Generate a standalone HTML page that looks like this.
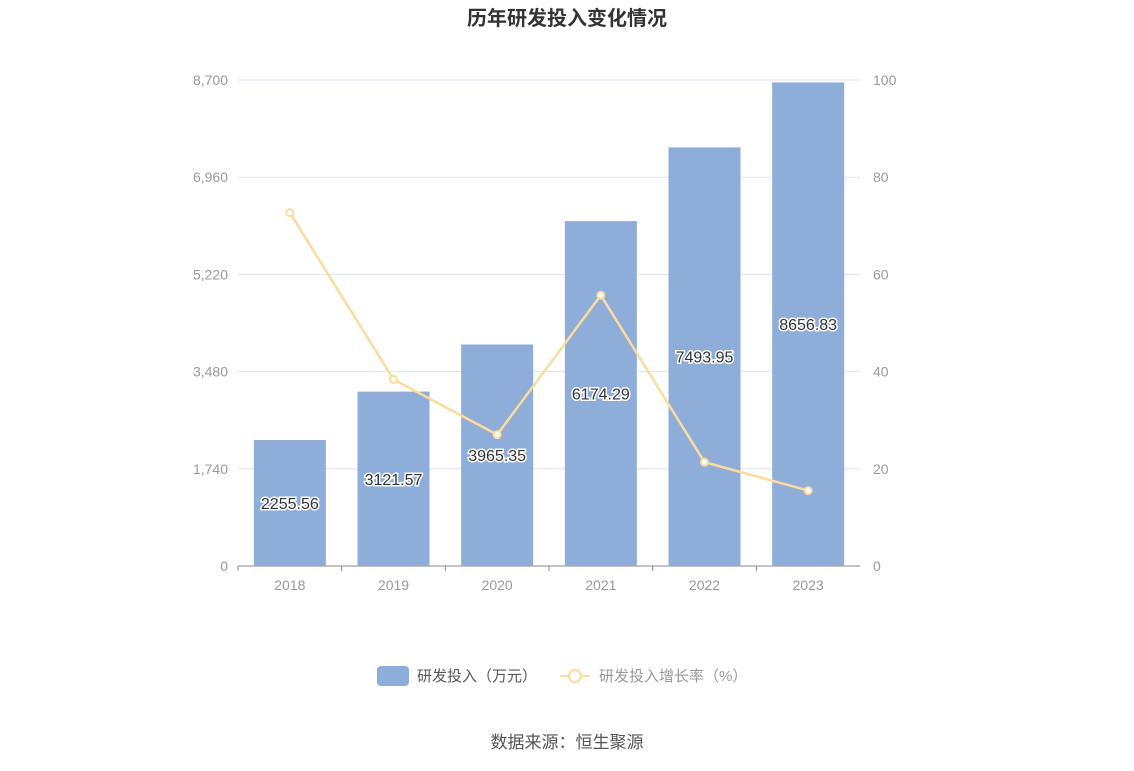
<!DOCTYPE html>
<html><head><meta charset="utf-8"><style>
body{margin:0;background:#fff;font-family:"Liberation Sans","Noto Sans CJK SC",sans-serif;}
</style></head><body>
<svg width="1134" height="766" viewBox="0 0 1134 766">
<text x="567" y="25" text-anchor="middle" font-size="20" font-weight="bold" fill="#333" font-family="Liberation Sans, Noto Sans CJK SC, sans-serif">历年研发投入变化情况</text>
<g id="grid"></g><g id="bars"></g><g id="line"></g><g id="labels"></g>
<g>
<rect x="377" y="666" width="32" height="20" rx="4" fill="#8eadd9"/>
<text x="417" y="681" font-size="15" fill="#555" font-family="Liberation Sans, Noto Sans CJK SC, sans-serif">研发投入（万元）</text>
<line x1="560" y1="676" x2="590" y2="676" stroke="#fddb9d" stroke-width="2"/>
<circle cx="575" cy="676" r="6" fill="#fff" stroke="#fddb9d" stroke-width="2"/>
<text x="599" y="681" font-size="15" fill="#999" font-family="Liberation Sans, Noto Sans CJK SC, sans-serif">研发投入增长率（%）</text>
</g>
<text x="567" y="748" text-anchor="middle" font-size="17" fill="#555" font-family="Liberation Sans, Noto Sans CJK SC, sans-serif">数据来源：恒生聚源</text>
</svg>
<script>
const categories=["2018","2019","2020","2021","2022","2023"];
const investment=[2255.56,3121.57,3965.35,6174.29,7493.95,8656.83];
const growth=[72.7,38.39,27.03,55.71,21.37,15.52];
const leftTicks=[0,1740,3480,5220,6960,8700];
const rightTicks=[0,20,40,60,80,100];
const NS="http://www.w3.org/2000/svg";
const L=238,R=860,T=80,B=566,lmax=8700,rmax=100;
const yl=v=>B-(v/lmax)*(B-T), yr=v=>B-(v/rmax)*(B-T);
const bw=(R-L)/categories.length, xc=i=>L+bw*(i+0.5);
function mk(tag,attrs,parent){const e=document.createElementNS(NS,tag);for(const k in attrs)e.setAttribute(k,attrs[k]);document.getElementById(parent).appendChild(e);return e;}
const F="Liberation Sans, Noto Sans CJK SC, sans-serif";
leftTicks.forEach((t,i)=>{
  if(i>0){const g=mk('line',{x1:L,x2:R,y1:yl(t),y2:yl(t),stroke:'#e0e3f0','stroke-width':1},'grid');
  
  }
  const a=mk('text',{x:L-10,y:yl(t)+5,'text-anchor':'end','font-size':14,fill:'#999','font-family':F},'grid');a.textContent=t.toLocaleString('en-US');
  
  
});
rightTicks.forEach(t=>{
  const a=mk('text',{x:R+13,y:yr(t)+5,'font-size':14,fill:'#999','font-family':F},'grid');a.textContent=t;
  
  
});
const ax=mk('line',{x1:L,x2:R,y1:B,y2:B,stroke:'#888','stroke-width':1},'grid');


categories.forEach((c,i)=>{
  const tk=mk('line',{x1:L+bw*i,x2:L+bw*i,y1:B,y2:B+5,stroke:'#888'},'grid');
  
  
  const a=mk('text',{x:xc(i),y:B+24,'text-anchor':'middle','font-size':14,fill:'#999','font-family':F},'grid');a.textContent=c;
  
  
  const w=72,y=yl(investment[i]);
  const b=mk('rect',{x:xc(i)-w/2,y:y,width:w,height:B-y,fill:'#8eadd9'},'bars');
  
  
  const lb=mk('text',{x:xc(i),y:(y+B)/2+6,'text-anchor':'middle','font-size':16,fill:'#333',stroke:'#fff','stroke-width':3,'paint-order':'stroke','font-family':F},'labels');lb.textContent=investment[i].toFixed(2);
  
  
});
const pl=mk('polyline',{points:growth.map((v,i)=>xc(i)+','+yr(v)).join(' '),fill:'none',stroke:'#fddb9d','stroke-width':2.5},'line');


growth.forEach((v,i)=>{
  const p=mk('circle',{cx:xc(i),cy:yr(v),r:3.5,fill:'#fff',stroke:'#fddb9d','stroke-width':2},'line');
  
  
});
</script>
</body></html>
